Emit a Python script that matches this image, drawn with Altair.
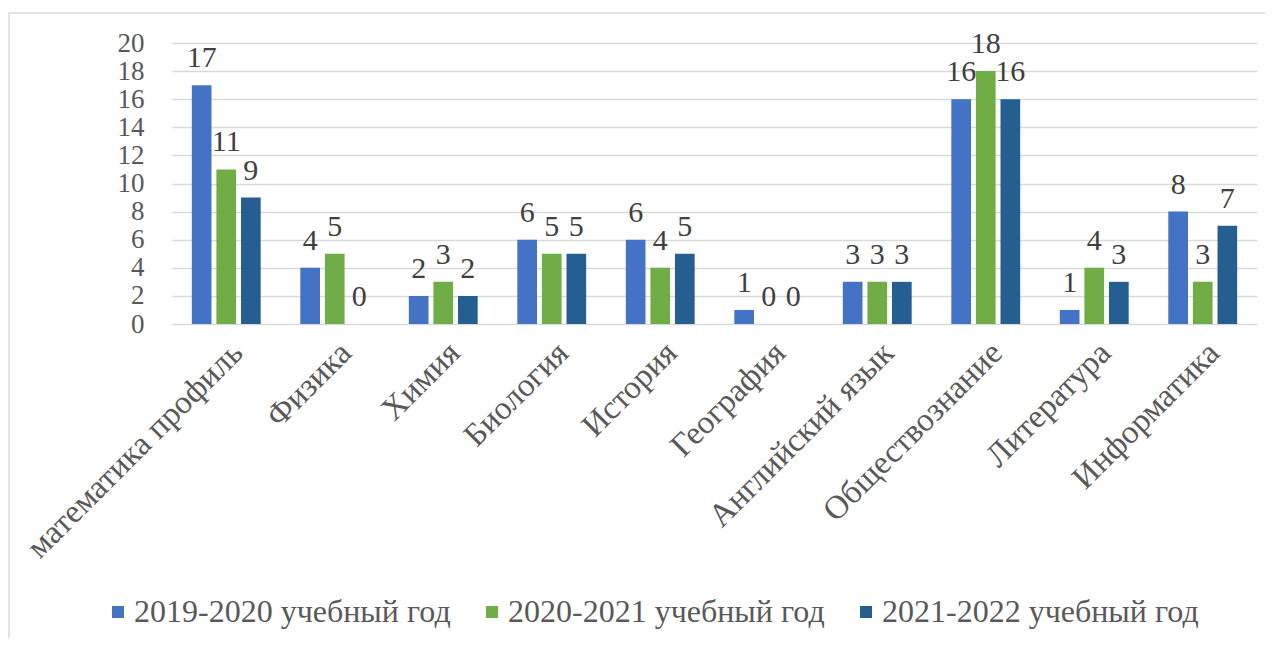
import altair as alt
import pandas as pd

subjects = ["математика профиль", "Физика", "Химия", "Биология", "История",
            "География", "Английский язык", "Обществознание", "Литература", "Информатика"]
years = ["2019-2020 учебный год", "2020-2021 учебный год", "2021-2022 учебный год"]
v2019 = [17, 4, 2, 6, 6, 1, 3, 16, 1, 8]
v2020 = [11, 5, 3, 5, 4, 0, 3, 18, 4, 3]
v2021 = [9, 0, 2, 5, 5, 0, 3, 16, 3, 7]
colors = ["#4472C4", "#70AD47", "#255E91"]
y_ticks = list(range(0, 21, 2))

rows = []
for yr, vals in zip(years, [v2019, v2020, v2021]):
    for s, v in zip(subjects, vals):
        rows.append({"subject": s, "year": yr, "value": v})
df = pd.DataFrame(rows)

FONT = "Liberation Serif"

x = alt.X("subject:N", sort=subjects,
          scale=alt.Scale(paddingInner=0.32, paddingOuter=0.16),
          axis=alt.Axis(title=None, labelAngle=-45, labelFont=FONT, labelFontSize=33,
                        labelColor="#595959", domain=False, ticks=False,
                        labelPadding=12, grid=False, labelLimit=0))
y = alt.Y("value:Q", scale=alt.Scale(domain=[0, 20], nice=False),
          axis=alt.Axis(values=y_ticks, title=None, grid=True, gridColor="#d9d9d9",
                        gridWidth=1.5, domain=False, ticks=False, labelFont=FONT,
                        labelFontSize=27, labelPadding=28, labelColor="#595959",
                        labelOverlap=False))
xoff = alt.XOffset("year:N", sort=years,
                   scale=alt.Scale(paddingInner=0.2, paddingOuter=0.1))
color = alt.Color("year:N", sort=years,
                  scale=alt.Scale(domain=years, range=colors),
                  legend=alt.Legend(orient="none", legendX=-70, legendY=553,
                                    direction="horizontal", title=None,
                                    symbolType="square", symbolSize=144,
                                    symbolStrokeWidth=0, labelFont=FONT,
                                    labelFontSize=32, labelColor="#595959",
                                    columnPadding=25, labelOffset=0, labelLimit=0))

base = alt.Chart(df)
bars = base.mark_bar().encode(x=x, y=y, xOffset=xoff, color=color)
labels = base.mark_text(baseline="alphabetic", dy=-18, font=FONT, fontSize=30,
                        color="#404040").encode(
    x=x, y=y, xOffset=xoff, text=alt.Text("value:Q"))

frame = alt.Chart(pd.DataFrame({"a": [0]})).mark_rect(
    fill="transparent", stroke="#d9d9d9", strokeWidth=1.5).encode(
    x=alt.value(-163), x2=alt.value(1300), y=alt.value(-30), y2=alt.value(800))

chart = alt.layer(frame, bars, labels).properties(
    width=1085, height=281,
    padding={"left": 164, "top": 35, "right": 8, "bottom": 314},
    autosize=alt.AutoSizeParams(type="none"),
    background="white",
).configure_view(stroke=None)

chart.save("out.html", embed_options={"renderer": "svg", "actions": False})
